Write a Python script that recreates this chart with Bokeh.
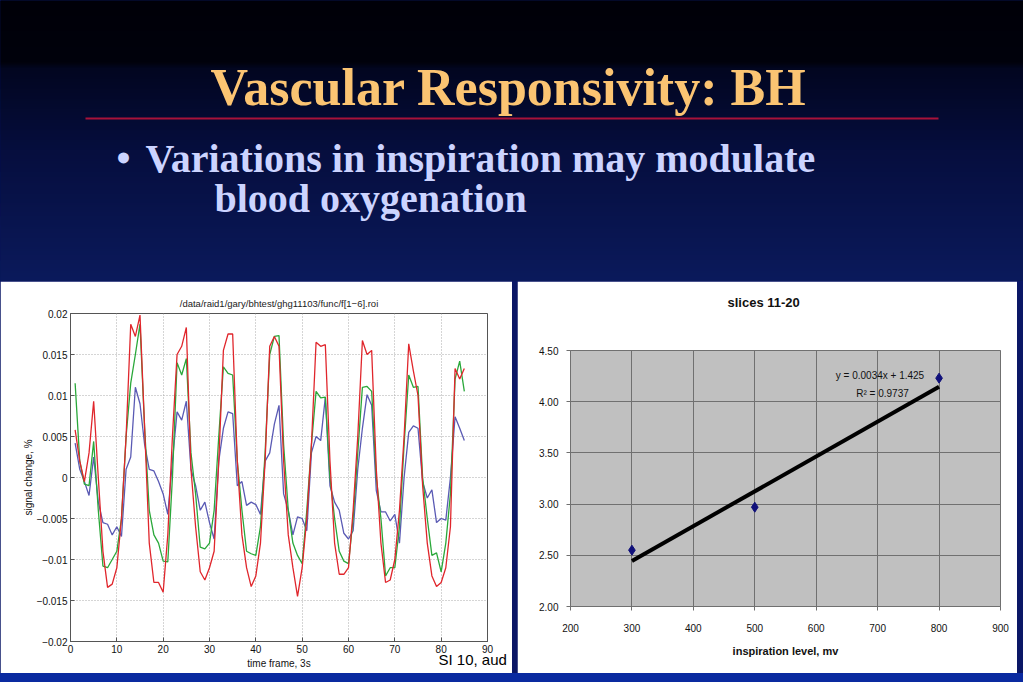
from bokeh.plotting import figure
from bokeh.layouts import column, row
from bokeh.models import Range1d, FixedTicker, Label, NumeralTickFormatter, Title, Spacer
from bokeh.core.properties import value
from bokeh.embed import file_html
from bokeh.resources import INLINE
import numpy as np

# ---------------- data ----------------
frames = list(range(1, 86))

red_roi = [0.0058, 0.002, -0.0005, 0.003, 0.0093, 0.0, -0.009, -0.0134, -0.013, -0.011,
           -0.005, 0.005, 0.0187, 0.0172, 0.0198, 0.006, -0.008, -0.0128, -0.0128, -0.014,
           -0.007, 0.005, 0.015, 0.016, 0.0183, 0.001, -0.006, -0.0115, -0.0125, -0.011,
           -0.009, 0.002, 0.0155, 0.0175, 0.0175, 0.002, -0.007, -0.011, -0.0133, -0.012,
           -0.008, 0.002, 0.016, 0.0172, 0.016, 0.002, -0.007, -0.011, -0.0145, -0.011,
           -0.005, 0.004, 0.0165, 0.016, 0.0162, 0.002, -0.008, -0.0118, -0.0118, -0.011,
           -0.004, 0.005, 0.0167, 0.015, 0.0155, 0.001, -0.008, -0.0128, -0.0125, -0.010,
           -0.004, 0.005, 0.0163, 0.013, 0.010, -0.001, -0.008, -0.012, -0.0133, -0.0128,
           -0.011, -0.006, 0.0133, 0.012, 0.0133]

green_roi = [0.0115, 0.002, -0.0008, -0.001, 0.0044, -0.004, -0.0108, -0.011, -0.010, -0.009,
             -0.005, 0.005, 0.0115, 0.015, 0.0187, 0.006, -0.004, -0.007, -0.008, -0.0102,
             -0.0103, 0.0, 0.014, 0.0125, 0.0145, 0.003, -0.002, -0.0085, -0.0087, -0.008,
             -0.004, 0.005, 0.0135, 0.0127, 0.0125, 0.002, -0.004, -0.009, -0.0093, -0.0095,
             -0.006, 0.003, 0.015, 0.0172, 0.0173, 0.004, -0.004, -0.008, -0.0095, -0.0105,
             -0.004, 0.004, 0.0105, 0.0097, 0.0098, 0.0, -0.005, -0.009, -0.0102, -0.0105,
             -0.005, 0.003, 0.011, 0.0111, 0.0105, 0.0, -0.005, -0.012, -0.011, -0.011,
             -0.006, 0.004, 0.0125, 0.011, 0.0111, 0.0, -0.005, -0.0095, -0.0092, -0.0115,
             -0.008, -0.002, 0.012, 0.0142, 0.0105]

blue_roi = [0.0042, 0.001, -0.0005, -0.0022, 0.0025, -0.003, -0.0055, -0.0057, -0.007, -0.006,
            -0.0072, 0.001, 0.0025, 0.011, 0.009, 0.004, 0.001, 0.0008, -0.0005, -0.002,
            -0.0045, 0.002, 0.008, 0.007, 0.0093, 0.001, -0.001, -0.004, -0.003, -0.0055,
            -0.0075, 0.002, 0.006, 0.008, 0.0078, -0.001, -0.0005, -0.0034, -0.003, -0.0033,
            -0.0045, 0.002, 0.003, 0.0065, 0.0088, -0.002, -0.004, -0.007, -0.0048, -0.005,
            -0.0065, 0.003, 0.005, 0.0045, 0.0098, -0.001, -0.003, -0.004, -0.0068, -0.0075,
            -0.0065, 0.001, 0.006, 0.0101, 0.0088, -0.0016, -0.0042, -0.0042, -0.0053, -0.0045,
            -0.008, 0.0, 0.0055, 0.0063, 0.006, -0.0005, -0.0025, -0.0015, -0.0055, -0.005,
            -0.0052, 0.0, 0.0074, 0.006, 0.0045]

left_xticks = [0, 10, 20, 30, 40, 50, 60, 70, 80, 90]
left_yticks = [-0.02, -0.015, -0.01, -0.005, 0, 0.005, 0.01, 0.015, 0.02]
left_ylabels = ["\u22120.02", "\u22120.015", "\u22120.01", "\u22120.005", "0",
                "0.005", "0.01", "0.015", "0.02"]

insp_level = [300, 500, 800]
insp_response = [2.55, 2.97, 4.23]
trend_slope = 0.0034
trend_intercept = 1.425
trend_x = [300, 800]
trend_y = [trend_slope * v + trend_intercept for v in trend_x]

right_xticks = [200, 300, 400, 500, 600, 700, 800, 900]
right_yticks = [2.0, 2.5, 3.0, 3.5, 4.0, 4.5]

# ---------------- header (slide title) ----------------
hdr = figure(width=1023, height=281, x_range=Range1d(0, 1023), y_range=Range1d(281, 0),
             x_axis_type=None, y_axis_type=None, toolbar_location=None,
             output_backend="svg", min_border=0, outline_line_color=None,
             border_fill_color="#0b1a5c", background_fill_color="#0b1a5c")

stops_y = [0, 62, 68, 150, 281]
stops_c = [(0, 0, 8), (1, 2, 12), (2, 6, 32), (6, 14, 62), (11, 26, 92)]
ys = np.arange(0, 281)
cols = []
for yy in ys:
    r_ = np.interp(yy, stops_y, [c[0] for c in stops_c])
    g_ = np.interp(yy, stops_y, [c[1] for c in stops_c])
    b_ = np.interp(yy, stops_y, [c[2] for c in stops_c])
    cols.append("#%02x%02x%02x" % (int(r_), int(g_), int(b_)))
hdr.quad(left=0, right=1023, top=ys, bottom=ys + 1, fill_color=cols, line_color=cols)

hdr.segment(x0=[85], y0=[118], x1=[938], y1=[118], line_color="#a8123a", line_width=2)

hdr.text(x=[508], y=[87], text=["Vascular Responsivity: BH"],
         text_font=value("Liberation Serif"), text_font_style="bold",
         text_font_size="52px", text_color="#fbc472", text_align="center",
         text_baseline="alphabetic")
hdr.text(x=[116], y=[158], text=["\u2022"],
         text_font=value("Liberation Serif"), text_font_style="bold",
         text_font_size="40px", text_color="#ccd4ff", text_align="left",
         text_baseline="alphabetic")
hdr.text(x=[145, 214], y=[158, 198],
         text=["Variations in inspiration may modulate", "blood oxygenation"],
         text_font=value("Liberation Serif"), text_font_style="bold",
         text_font_size="40px", text_color="#ccd4ff", text_align="left",
         text_baseline="alphabetic")

# ---------------- left: MATLAB ROI time course ----------------
lf = figure(width=512, height=392, x_range=Range1d(0, 90), y_range=Range1d(-0.02, 0.02),
            toolbar_location=None, output_backend="svg",
            min_border_left=70, min_border_right=25, min_border_top=32, min_border_bottom=32,
            background_fill_color="white", border_fill_color="white",
            outline_line_color="#555555")
lf.title.text = "/data/raid1/gary/bhtest/ghg11103/func/f[1\u22126].roi"
lf.title.align = "center"
lf.title.text_font = "Liberation Sans"
lf.title.text_font_style = "normal"
lf.title.text_font_size = "9.5px"
lf.title.text_color = "#222222"

lf.line(frames, blue_roi, line_color="#5a5ab4", line_width=1.3)
lf.line(frames, green_roi, line_color="#2aa83a", line_width=1.3)
lf.line(frames, red_roi, line_color="#e0262c", line_width=1.3)

lf.xaxis.ticker = FixedTicker(ticks=left_xticks)
lf.yaxis.ticker = FixedTicker(ticks=left_yticks)
lf.yaxis.major_label_overrides = {t: l for t, l in zip(left_yticks, left_ylabels)}
lf.yaxis.axis_label = "signal change, %"
for ax in (lf.xaxis, lf.yaxis):
    ax.major_tick_in = 4
    ax.major_tick_out = 0
    ax.minor_tick_line_color = None
    ax.axis_line_color = "#555555"
    ax.major_tick_line_color = "#555555"
    ax.major_label_text_font = "Liberation Sans"
    ax.major_label_text_font_size = "10px"
    ax.major_label_text_color = "#111111"
    ax.axis_label_text_font = "Liberation Sans"
    ax.axis_label_text_font_size = "10px"
    ax.axis_label_text_font_style = "normal"
    ax.axis_label_text_color = "#111111"
lf.xaxis.major_label_standoff = 3
lf.yaxis.major_label_standoff = 3
lf.yaxis.axis_label_standoff = 0
lf.grid.grid_line_color = "#aaaaaa"
lf.grid.grid_line_dash = "1 2"
# bottom annotations: slide note (inner) and x-axis caption (outer), sharing one row
lf.add_layout(Title(text="SI 10, aud", align="left", offset=368, standoff=-13,
                    text_font="Liberation Sans", text_font_size="15px",
                    text_font_style="normal", text_color="#000000"), "below")
lf.add_layout(Title(text="time frame, 3s", align="center", standoff=-14,
                    text_font="Liberation Sans", text_font_size="10px",
                    text_font_style="normal", text_color="#111111"), "below")

# ---------------- right: Excel scatter with trend ----------------
sans = "Liberation Sans"
rf = figure(width=500, height=392, x_range=Range1d(200, 900), y_range=Range1d(2.0, 4.5),
            toolbar_location=None, output_backend="svg", title=None,
            min_border_left=53, min_border_right=17, min_border_top=69, min_border_bottom=67,
            background_fill_color="#c0c0c0", border_fill_color="white",
            outline_line_color="#707070")
rf.xaxis.ticker = FixedTicker(ticks=right_xticks)
rf.yaxis.ticker = FixedTicker(ticks=right_yticks)
rf.yaxis.formatter = NumeralTickFormatter(format="0.00")
rf.xaxis.axis_label = "inspiration level, mv"
for ax in (rf.xaxis, rf.yaxis):
    ax.major_tick_in = 0
    ax.major_tick_out = 4
    ax.minor_tick_line_color = None
    ax.axis_line_color = "#707070"
    ax.major_tick_line_color = "#707070"
    ax.major_label_text_font = sans
    ax.major_label_text_font_size = "10px"
    ax.major_label_text_color = "#111111"
    ax.axis_label_text_font = sans
    ax.axis_label_text_font_size = "11px"
    ax.axis_label_text_font_style = "bold"
    ax.axis_label_text_color = "#111111"
rf.xaxis.major_label_standoff = 13
rf.xaxis.axis_label_standoff = 10
rf.yaxis.major_label_standoff = 8
rf.grid.grid_line_color = "#707070"
rf.grid.grid_line_alpha = 1.0

rf.line(trend_x, trend_y, line_color="#000000", line_width=4)
rf.scatter(insp_level, insp_response, marker="diamond", size=10,
           fill_color="#10107a", line_color="#10107a")

# inner spacer title, then the visible chart title further out
rf.add_layout(Title(text=" ", text_font_size="1px", standoff=38), "above")
rf.add_layout(Title(text="slices 11-20", align="left", offset=157, standoff=0,
                    text_font=sans, text_font_size="13px", text_font_style="bold",
                    text_color="#111111"), "above")

rf.add_layout(Label(x=703.8, y=4.256, text="y = 0.0034x + 1.425", text_font=sans,
                    text_font_size="10px", text_color="#111111",
                    text_align="center", text_baseline="middle"))
rf.add_layout(Label(x=707.9, y=4.08, text="R\u00b2 = 0.9737", text_font=sans,
                    text_font_size="10px", text_color="#111111",
                    text_align="center", text_baseline="middle"))

panels = row(column(lf), column(rf), spacing=5, styles={"background-color": "#0b1766"})
strip = Spacer(width=1023, height=9, styles={"background-color": "#0a2aa0"})
page = column(hdr, panels, strip, spacing=0, styles={"background-color": "#0b1766"})

open("out.html", "w").write(file_html(page, INLINE))
